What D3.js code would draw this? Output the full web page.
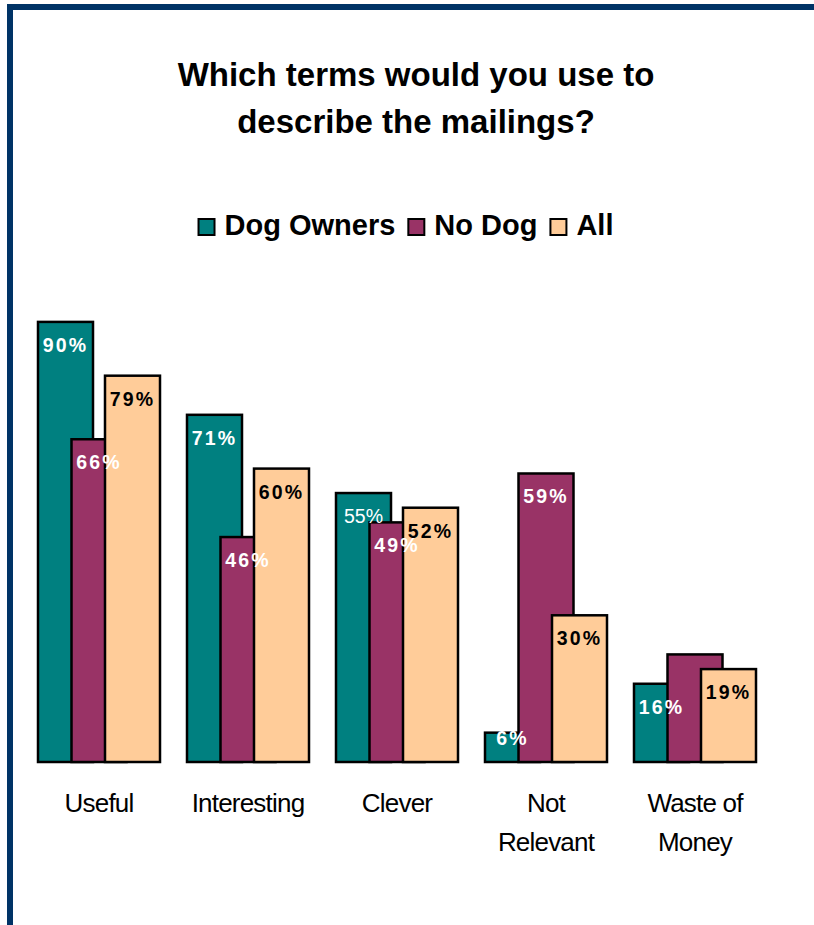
<!DOCTYPE html>
<html>
<head>
<meta charset="utf-8">
<script src="https://cdn.jsdelivr.net/npm/d3@7/dist/d3.min.js"></script>
<style>
  html, body { margin: 0; padding: 0; background: #fff; }
  svg { display: block; font-family: "Liberation Sans", Arial, Helvetica, sans-serif; }
</style>
</head>
<body>
<svg id="chart" width="814" height="925"></svg>
<script>
// Survey answers: share of respondents choosing each term (%)
const categories = [["Useful"], ["Interesting"], ["Clever"], ["Not", "Relevant"], ["Waste of", "Money"]];
const seriesNames = ["Dog Owners", "No Dog", "All"];
const dogOwners = [90, 71, 55, 6, 16];
const noDog = [66, 46, 49, 59, 22];
const allResp = [79, 60, 52, 30, 19];
const seriesValues = [dogOwners, noDog, allResp];
const titleLines = ["Which terms would you use to", "describe the mailings?"];

// Presentation settings
const colors = ["#008080", "#993366", "#FFCC99"];
const labelColors = ["#ffffff", "#ffffff", "#000000"];
const unlabeled = new Set(["No Dog|4"]);   // bar drawn without a value label
const plainLabels = new Set(["Dog Owners|2"]); // label set in regular weight

const svg = d3.select("#chart");

// Frame lines (top and left)
svg.append("rect").attr("x", 7).attr("y", 4).attr("width", 807).attr("height", 6).attr("fill", "#003366");
svg.append("rect").attr("x", 7).attr("y", 4).attr("width", 6).attr("height", 921).attr("fill", "#003366");

// Title
svg.append("text")
  .attr("x", 416).attr("y", 86)
  .attr("text-anchor", "middle")
  .attr("font-size", 33).attr("font-weight", "bold")
  .selectAll("tspan").data(titleLines).join("tspan")
  .attr("x", 416).attr("dy", (d, i) => i === 0 ? 0 : 47)
  .text(d => d);

// Legend
const legend = svg.append("g");
const legItems = legend.selectAll("g").data(seriesNames).join("g");
legItems.append("rect")
  .attr("width", 16).attr("height", 16).attr("y", 219)
  .attr("fill", (d, i) => colors[i]).attr("stroke", "#000").attr("stroke-width", 2);
legItems.append("text")
  .attr("x", 26).attr("y", 235)
  .attr("font-size", 29).attr("font-weight", "bold")
  .text(d => d);
let cursor = 0;
legItems.each(function () {
  const g = d3.select(this);
  g.attr("transform", `translate(${cursor},0)`);
  const w = g.select("text").node().getComputedTextLength();
  cursor += 26 + w + 13;
});
const legendWidth = cursor - 13;
legend.attr("transform", `translate(${406 - legendWidth / 2},0)`);

// Scales
const idx = d3.range(categories.length);
const x0 = d3.scaleBand().domain(idx).range([24.5, 769.5]).padding(0);
const x1 = d3.scalePoint().domain(seriesNames).range([-61, 6]);
const barW = 55;
const y = d3.scaleLinear().domain([0, 100]).range([762, 273]);

// Bars: series drawn in order so later series overlap earlier ones
const bars = [];
seriesNames.forEach((s, si) => {
  seriesValues[si].forEach((v, ci) => bars.push({ s, si, ci, v }));
});

const barG = svg.append("g");
seriesNames.forEach((s, si) => {
  barG.append("g").selectAll("rect")
    .data(bars.filter(b => b.si === si))
    .join("rect")
    .attr("x", d => x0(d.ci) + x0.bandwidth() / 2 + x1(d.s))
    .attr("y", d => y(d.v))
    .attr("width", barW)
    .attr("height", d => y(0) - y(d.v))
    .attr("fill", colors[si])
    .attr("stroke", "#000").attr("stroke-width", 2.5);
});

// Value labels
svg.append("g").selectAll("text")
  .data(bars.filter(b => !unlabeled.has(`${b.s}|${b.ci}`)))
  .join("text")
  .attr("x", d => x0(d.ci) + x0.bandwidth() / 2 + x1(d.s) + barW / 2)
  .attr("y", d => Math.min(y(d.v) + 30, y(0) - 17))
  .attr("text-anchor", "middle")
  .attr("font-size", 19.5)
  .attr("font-weight", d => plainLabels.has(`${d.s}|${d.ci}`) ? "normal" : "bold")
  .attr("letter-spacing", d => plainLabels.has(`${d.s}|${d.ci}`) ? 0 : 2.2)
  .attr("fill", d => labelColors[d.si])
  .text(d => `${d.v}%`);

// Category labels
svg.append("g").selectAll("text")
  .data(idx)
  .join("text")
  .attr("text-anchor", "middle")
  .attr("font-size", 26)
  .attr("letter-spacing", -0.8)
  .attr("y", 812)
  .selectAll("tspan").data(i => categories[i].map(t => ({ t, i })))
  .join("tspan")
  .attr("x", d => x0(d.i) + x0.bandwidth() / 2)
  .attr("dy", (d, k) => k === 0 ? 0 : 39)
  .text(d => d.t);
</script>
</body>
</html>
